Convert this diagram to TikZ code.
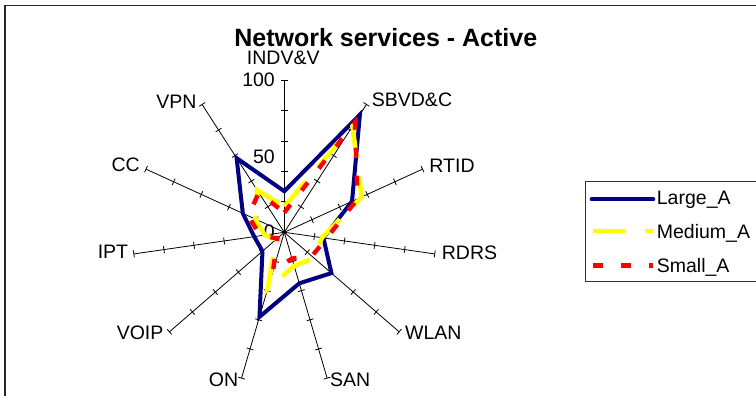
\documentclass[tikz,border=0pt]{standalone}
\usepackage{fontspec}
\setmainfont{Liberation Sans}
\definecolor{navyA}{RGB}{0,0,128}
\definecolor{yellowA}{RGB}{255,255,0}
\definecolor{redA}{RGB}{255,0,0}
\tikzset{
  axisline/.style={line width=0.8pt, black},
  tickmark/.style={line width=0.8pt, black},
  largeA/.style={line width=4pt, draw=navyA, line join=miter},
  mediumA/.style={line width=4.6pt, draw=yellowA, dash pattern=on 33pt off 19pt},
  smallA/.style={line width=4.4pt, draw=redA, dash pattern=on 10pt off 18pt},
  lbl/.style={inner sep=0pt, font=\fontsize{19.5}{22}\selectfont},
  ttl/.style={inner sep=0pt, font=\fontsize{25}{29}\selectfont\bfseries},
}
\begin{document}
\begin{tikzpicture}[x=1pt,y=1pt]
\useasboundingbox (-284.3,-163.7) rectangle (471.7,232.3);
\clip (-284.3,-163.7) rectangle (471.7,232.3);

% chart area frame (runs off the right and bottom edges)
\draw[line width=1.8pt, black!85] (-279.3,-200) |- (520,226.8);

% title
\node[ttl, anchor=base] (title) at (101.5,185.6) {Network services - Active};

% radial axes with cross ticks every 20 units (100 units = 152pt)
\coordinate (O) at (0,0);
\foreach \k in {0,...,10}{
  \pgfmathsetmacro\ang{90-\k*360/11}
  \coordinate (E\k) at (\ang:152pt);
  \draw[axisline] (O) -- (E\k);
  \foreach \r in {30.4,60.8,91.2,121.6,152}{
    \draw[tickmark, rotate=\ang] (\r,-3.5) -- (\r,3.5);
  }
}

% scale labels
\node[lbl, anchor=base east] (s100) at (-9.3,145.6) {100};
\node[lbl, anchor=base east] (s50) at (-9.3,69) {50};
\node[lbl, anchor=base east] (s0) at (-9.3,-6) {0};

% category labels
\node[lbl, anchor=base] (cINDV) at (-1,167.3) {INDV\&V};
\node[lbl, anchor=base west] (cSBVD) at (87.4,125.6) {SBVD\&C};
\node[lbl, anchor=base west] (cRTID) at (145,59.6) {RTID};
\node[lbl, anchor=base west] (cRDRS) at (157.4,-27) {RDRS};
\node[lbl, anchor=base west] (cWLAN) at (120.7,-107.7) {WLAN};
\node[lbl, anchor=base west] (cSAN) at (45.7,-154.4) {SAN};
\node[lbl, anchor=base east] (cON) at (-46,-154.4) {ON};
\node[lbl, anchor=base east] (cVOIP) at (-120.7,-107.7) {VOIP};
\node[lbl, anchor=base east] (cIPT) at (-156,-26) {IPT};
\node[lbl, anchor=base east] (cCC) at (-144.3,60.6) {CC};
\node[lbl, anchor=base east] (cVPN) at (-87.6,124) {VPN};

% data points of the three series
\foreach \k/\v in {0/27,1/92,2/49,3/26,4/41,5/35,6/58,7/19,8/20,9/30,10/58}{
  \pgfmathsetmacro\ang{90-\k*360/11}
  \pgfmathsetmacro\rr{\v*1.52}
  \coordinate (L\k) at (\ang:\rr pt);
}
\foreach \k/\v in {0/17,1/83,2/56,3/25,4/26,5/23,6/39,7/7,8/13,9/21,10/33}{
  \pgfmathsetmacro\ang{90-\k*360/11}
  \pgfmathsetmacro\rr{\v*1.52}
  \coordinate (M\k) at (\ang:\rr pt);
}
\foreach \k/\v in {0/13,1/86,2/53,3/28,4/24,5/18,6/26,7/6,8/16,9/26,10/31}{
  \pgfmathsetmacro\ang{90-\k*360/11}
  \pgfmathsetmacro\rr{\v*1.52}
  \coordinate (S\k) at (\ang:\rr pt);
}

\draw[largeA] (L0) -- (L1) -- (L2) -- (L3) -- (L4) -- (L5) -- (L6) -- (L7) -- (L8) -- (L9) -- (L10) -- cycle;
\draw[mediumA] (M0) -- (M1) -- (M2) -- (M3) -- (M4) -- (M5) -- (M6) -- (M7) -- (M8) -- (M9) -- (M10) -- cycle;
\draw[smallA] (S0) -- (S1) -- (S2) -- (S3) -- (S4) -- (S5) -- (S6) -- (S7) -- (S8) -- (S9) -- (S10) -- cycle;

% legend
\draw[line width=1pt, black!80] (300.7,-49.4) rectangle (520,50.6);
\coordinate (lgA1) at (307.4,33);   \coordinate (lgA2) at (369,33);
\coordinate (lgB1) at (309,1.3);    \coordinate (lgB2) at (369,1.3);
\coordinate (lgC1) at (309,-33.4);  \coordinate (lgC2) at (369,-33.4);
\draw[largeA, line cap=round] (lgA1) -- (lgA2);
\draw[mediumA] (lgB1) -- (lgB2);
\draw[smallA] (lgC1) -- (lgC2);
\node[lbl, anchor=base west] (tA) at (372.4,27.3) {Large\_A};
\node[lbl, anchor=base west] (tB) at (372.4,-6) {Medium\_A};
\node[lbl, anchor=base west] (tC) at (372.4,-40.4) {Small\_A};
\end{tikzpicture}
\end{document}
